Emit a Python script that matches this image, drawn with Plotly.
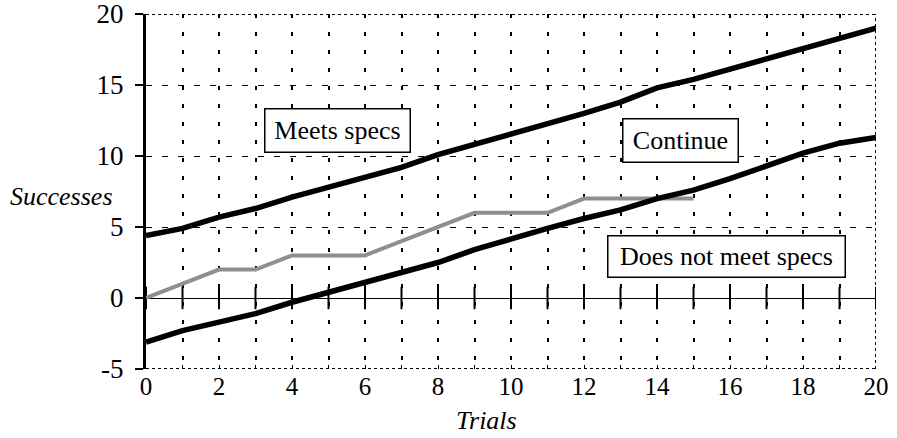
import plotly.graph_objects as go

# ---- data ----
trials = list(range(0, 21))
upper_limit = [4.4, 4.9, 5.7, 6.3, 7.1, 7.8, 8.5, 9.2, 10.1, 10.8, 11.5,
               12.2, 13.0, 13.8, 14.8, 15.4, 16.1, 16.9, 17.6, 18.3, 19.0]
lower_limit = [-3.1, -2.3, -1.7, -1.1, -0.3, 0.4, 1.1, 1.8, 2.5, 3.4, 4.2,
               4.9, 5.6, 6.2, 7.0, 7.6, 8.4, 9.3, 10.2, 10.9, 11.3]
observed_trials = list(range(0, 16))
observed_successes = [0, 1, 2, 2, 3, 3, 3, 4, 5, 6, 6, 6, 7, 7, 7, 7]

x_tick_vals = list(range(0, 21))
x_tick_text = [str(v) if v % 2 == 0 else "" for v in x_tick_vals]
y_tick_vals = [-5, 0, 5, 10, 15, 20]
y_tick_text = ["-5", "0", "5", "10", "15", "20"]

FONT = "Liberation Serif, Times New Roman, serif"

fig = go.Figure()

# tick marks crossing the zero line
fig.add_trace(go.Scatter(
    x=trials, y=[0] * len(trials), mode="markers",
    marker=dict(symbol="line-ns", size=16, line=dict(color="black", width=2)),
    hoverinfo="skip", showlegend=False))

fig.add_trace(go.Scatter(x=observed_trials, y=observed_successes, mode="lines",
                         line=dict(color="#8f8f8f", width=4), showlegend=False))
fig.add_trace(go.Scatter(x=trials, y=upper_limit, mode="lines",
                         line=dict(color="black", width=5.5), showlegend=False))
fig.add_trace(go.Scatter(x=trials, y=lower_limit, mode="lines",
                         line=dict(color="black", width=5.5), showlegend=False))

fig.update_layout(
    width=897, height=438,
    margin=dict(l=146, r=21, t=14, b=69),
    paper_bgcolor="white", plot_bgcolor="white",
    font=dict(family=FONT, color="black", size=24),
    xaxis=dict(range=[0, 20], tickmode="array", tickvals=x_tick_vals,
               ticktext=x_tick_text, showgrid=True, gridcolor="black",
               gridwidth=1.5, griddash="4px,14px", showline=False,
               ticks="inside", ticklen=4, tickwidth=1, tickcolor="black",
               zeroline=False, tickfont=dict(size=25), automargin=False,
               ticklabeloverflow="allow"),
    yaxis=dict(range=[-5, 20], tickmode="array", tickvals=y_tick_vals,
               ticktext=y_tick_text, showgrid=True, gridcolor="black",
               gridwidth=1.2, griddash="6px,10px", showline=True,
               linecolor="black", linewidth=3, ticks="outside", ticklen=8,
               tickwidth=2, tickcolor="black", zeroline=True,
               zerolinecolor="black", zerolinewidth=1.2,
               ticklabelstandoff=6, tickfont=dict(size=27), automargin=False,
               ticklabeloverflow="allow"),
)

# dotted frame on top, bottom and right
frame = dict(color="black", width=2, dash="dot")
fig.add_shape(type="line", xref="x", yref="y", x0=0, x1=20, y0=20, y1=20, line=frame)
fig.add_shape(type="line", xref="x", yref="y", x0=0, x1=20, y0=-5, y1=-5, line=frame)
fig.add_shape(type="line", xref="x", yref="y", x0=20, x1=20, y0=-5, y1=20, line=frame)

box = dict(bordercolor="black", borderwidth=1.5, bgcolor="white",
           showarrow=False, font=dict(size=26, family=FONT), xref="x", yref="y")
fig.add_annotation(text="Meets specs", x=5.25, y=11.8, width=142, height=40, **box)
fig.add_annotation(text="Continue", x=14.63, y=11.1, width=112, height=40, **box)
fig.add_annotation(text="Does not meet specs", x=15.9, y=2.9, width=234, height=38, **box)

fig.add_annotation(text="<i>Successes</i>", xref="paper", yref="paper",
                   x=-0.116, y=0.487, xanchor="center", yanchor="middle",
                   showarrow=False, font=dict(size=26))
fig.add_annotation(text="<i>Trials</i>", xref="paper", yref="paper",
                   x=0.467, y=-0.144, xanchor="center", yanchor="middle",
                   showarrow=False, font=dict(size=26))

fig.write_html("out.html", config={"displayModeBar": False},
               post_script="document.body.style.margin='0';")
